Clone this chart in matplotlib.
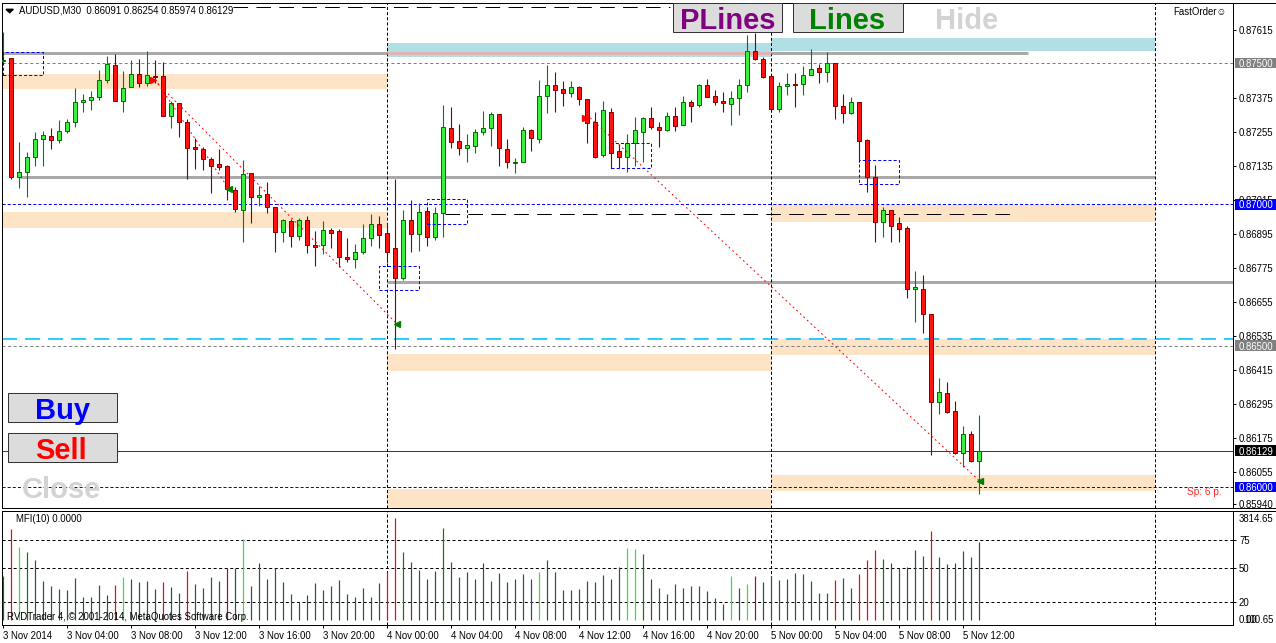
import matplotlib
matplotlib.use("Agg")
import matplotlib.pyplot as plt
from matplotlib.patches import Rectangle, Polygon
from matplotlib.lines import Line2D

plt.rcParams['font.family'] = ['Liberation Sans', 'DejaVu Sans']
plt.rcParams['lines.scale_dashes'] = False
plt.rcParams['lines.solid_capstyle'] = 'butt'

# ---------------- data ----------------
SYMBOL = "AUDUSD,M30"
opens = [0.87507, 0.87518, 0.87097, 0.87114, 0.87168, 0.87231, 0.87242, 0.87228, 0.87260, 0.87291,
         0.87362, 0.87369, 0.87380, 0.87440, 0.87493, 0.87365, 0.87415, 0.87461, 0.87429, 0.87454,
         0.87454, 0.87313, 0.87359, 0.87291, 0.87203, 0.87196, 0.87160, 0.87143, 0.87136, 0.87051,
         0.86980, 0.87111, 0.87026, 0.87037, 0.86991, 0.86902, 0.86941, 0.86888, 0.86945, 0.86856,
         0.86856, 0.86909, 0.86906, 0.86814, 0.86807, 0.86831, 0.86881, 0.86930, 0.86899, 0.86846,
         0.86739, 0.86945, 0.86895, 0.86976, 0.86885, 0.86969, 0.87270, 0.87224, 0.87199, 0.87206,
         0.87256, 0.87270, 0.87320, 0.87196, 0.87146, 0.87150, 0.87263, 0.87231, 0.87383, 0.87422,
         0.87408, 0.87394, 0.87415, 0.87373, 0.87291, 0.87175, 0.87327, 0.87189, 0.87168, 0.87217,
         0.87256, 0.87306, 0.87274, 0.87263, 0.87313, 0.87281, 0.87362, 0.87352, 0.87422, 0.87383,
         0.87365, 0.87355, 0.87376, 0.87422, 0.87543, 0.87514, 0.87454, 0.87337, 0.87419, 0.87426,
         0.87426, 0.87458, 0.87482, 0.87468, 0.87500, 0.87348, 0.87323, 0.87362, 0.87228, 0.87097,
         0.86938, 0.86980, 0.86934, 0.86916, 0.86701, 0.86701, 0.86612, 0.86301, 0.86333, 0.86269,
         0.86120, 0.86188, 0.86091]
highs = [0.87610, 0.87518, 0.87221, 0.87185, 0.87256, 0.87260, 0.87270, 0.87298, 0.87302, 0.87412,
         0.87390, 0.87401, 0.87475, 0.87525, 0.87532, 0.87472, 0.87511, 0.87514, 0.87543, 0.87511,
         0.87504, 0.87365, 0.87359, 0.87302, 0.87235, 0.87203, 0.87168, 0.87196, 0.87139, 0.87062,
         0.87157, 0.87111, 0.87065, 0.87079, 0.86991, 0.86948, 0.86948, 0.86952, 0.86959, 0.86906,
         0.86941, 0.86916, 0.86913, 0.86881, 0.86860, 0.86930, 0.86966, 0.86959, 0.86934, 0.87090,
         0.86980, 0.87015, 0.87005, 0.86991, 0.86991, 0.87352, 0.87344, 0.87284, 0.87249, 0.87267,
         0.87330, 0.87327, 0.87320, 0.87231, 0.87164, 0.87274, 0.87267, 0.87440, 0.87493, 0.87468,
         0.87436, 0.87436, 0.87419, 0.87373, 0.87327, 0.87365, 0.87341, 0.87214, 0.87249, 0.87309,
         0.87309, 0.87344, 0.87291, 0.87327, 0.87344, 0.87383, 0.87369, 0.87426, 0.87444, 0.87405,
         0.87398, 0.87401, 0.87444, 0.87599, 0.87606, 0.87521, 0.87454, 0.87433, 0.87465, 0.87465,
         0.87489, 0.87550, 0.87497, 0.87539, 0.87500, 0.87390, 0.87380, 0.87362, 0.87231, 0.87139,
         0.86991, 0.86980, 0.86955, 0.86923, 0.86764, 0.86750, 0.86612, 0.86386, 0.86371, 0.86304,
         0.86216, 0.86198, 0.86254]
lows = [0.87504, 0.87090, 0.87058, 0.87026, 0.87136, 0.87136, 0.87196, 0.87217, 0.87252, 0.87274,
        0.87327, 0.87334, 0.87369, 0.87429, 0.87365, 0.87327, 0.87415, 0.87415, 0.87419, 0.87429,
        0.87313, 0.87270, 0.87238, 0.87090, 0.87125, 0.87122, 0.87040, 0.87122, 0.87015, 0.86973,
        0.86867, 0.86934, 0.86995, 0.86969, 0.86831, 0.86867, 0.86849, 0.86874, 0.86828, 0.86782,
        0.86824, 0.86846, 0.86778, 0.86796, 0.86775, 0.86824, 0.86853, 0.86846, 0.86792, 0.86488,
        0.86732, 0.86831, 0.86835, 0.86853, 0.86874, 0.86885, 0.87199, 0.87175, 0.87150, 0.87182,
        0.87245, 0.87206, 0.87136, 0.87129, 0.87111, 0.87150, 0.87189, 0.87217, 0.87323, 0.87327,
        0.87348, 0.87380, 0.87352, 0.87217, 0.87164, 0.87168, 0.87129, 0.87129, 0.87114, 0.87136,
        0.87150, 0.87267, 0.87203, 0.87260, 0.87260, 0.87281, 0.87291, 0.87344, 0.87380, 0.87352,
        0.87327, 0.87281, 0.87316, 0.87398, 0.87511, 0.87447, 0.87334, 0.87327, 0.87387, 0.87344,
        0.87387, 0.87458, 0.87429, 0.87433, 0.87302, 0.87288, 0.87320, 0.87150, 0.87044, 0.86867,
        0.86885, 0.86867, 0.86867, 0.86669, 0.86584, 0.86545, 0.86113, 0.86258, 0.86262, 0.86117,
        0.86071, 0.86088, 0.85974]
closes = [0.87511, 0.87097, 0.87114, 0.87168, 0.87231, 0.87245, 0.87228, 0.87260, 0.87291, 0.87362,
          0.87369, 0.87380, 0.87440, 0.87497, 0.87365, 0.87412, 0.87461, 0.87429, 0.87458, 0.87451,
          0.87313, 0.87359, 0.87291, 0.87199, 0.87196, 0.87160, 0.87136, 0.87132, 0.87054, 0.86984,
          0.87107, 0.87026, 0.87033, 0.86991, 0.86902, 0.86945, 0.86888, 0.86945, 0.86856, 0.86849,
          0.86909, 0.86899, 0.86814, 0.86807, 0.86831, 0.86881, 0.86930, 0.86892, 0.86831, 0.86739,
          0.86945, 0.86895, 0.86973, 0.86885, 0.86969, 0.87274, 0.87221, 0.87199, 0.87210, 0.87256,
          0.87270, 0.87320, 0.87199, 0.87150, 0.87150, 0.87263, 0.87235, 0.87383, 0.87422, 0.87405,
          0.87394, 0.87415, 0.87373, 0.87288, 0.87168, 0.87334, 0.87182, 0.87168, 0.87217, 0.87263,
          0.87306, 0.87274, 0.87263, 0.87313, 0.87277, 0.87362, 0.87348, 0.87422, 0.87380, 0.87362,
          0.87359, 0.87376, 0.87422, 0.87543, 0.87514, 0.87451, 0.87337, 0.87419, 0.87426, 0.87422,
          0.87458, 0.87479, 0.87468, 0.87500, 0.87348, 0.87323, 0.87362, 0.87224, 0.87097, 0.86938,
          0.86980, 0.86923, 0.86913, 0.86701, 0.86708, 0.86612, 0.86301, 0.86336, 0.86265, 0.86120,
          0.86188, 0.86091, 0.86129]

mfi = [43.0, 84.7, 68.7, 64.3, 57.2, 38.6, 34.4, 31.5, 30.6, 41.2,
       24.4, 24.4, 35.0, 26.2, 35.0, 42.1, 40.4, 37.7, 38.6, 31.5,
       37.7, 33.3, 27.9, 47.5, 35.9, 32.4, 42.1, 38.6, 50.1, 50.1,
       75.8, 34.4, 54.6, 40.4, 50.1, 37.7, 27.1, 20.0, 26.2, 36.8,
       30.6, 34.4, 39.5, 27.1, 24.4, 32.4, 24.4, 36.8, 46.6, 94.5,
       64.3, 55.4, 48.3, 40.4, 47.5, 85.6, 55.4, 42.1, 46.6, 40.4,
       54.6, 38.6, 45.7, 37.7, 40.4, 44.8, 40.4, 46.6, 57.2, 46.6,
       30.6, 30.6, 31.5, 38.6, 37.7, 43.9, 40.4, 51.0, 67.9, 67.0,
       62.5, 40.4, 32.4, 27.1, 35.9, 32.4, 34.2, 34.2, 29.7, 23.5,
       18.2, 43.0, 32.4, 35.9, 43.0, 37.7, 43.0, 39.5, 40.4, 45.7,
       44.8, 38.6, 27.9, 27.9, 39.5, 41.2, 32.4, 44.8, 57.2, 66.1,
       58.1, 54.6, 50.1, 51.0, 66.1, 60.8, 82.9, 59.9, 53.7, 54.6,
       65.2, 59.9, 73.2]
mfi_kind = ("drldgggggg" "ggggrlgggg" "rggrggggmg" "lggggggggg" "ggggggggrr"
            "dggggdgggg" "ggggggglgg" "ggggggggll" "dggggggggg" "glglmggggg"
            "ggggrggrrr" "dgggggrggg" "ggg")
MFI_LEVELS = [75, 50, 20]

TIME_TICK_BARS = [0, 8, 16, 24, 32, 40, 48, 56, 64, 72, 80, 88, 96, 104, 112, 120]
TIME_LABELS = ["3 Nov 2014", "3 Nov 04:00", "3 Nov 08:00", "3 Nov 12:00", "3 Nov 16:00",
               "3 Nov 20:00", "4 Nov 00:00", "4 Nov 04:00", "4 Nov 08:00", "4 Nov 12:00",
               "4 Nov 16:00", "4 Nov 20:00", "5 Nov 00:00", "5 Nov 04:00", "5 Nov 08:00",
               "5 Nov 12:00"]
DAY_BARS = [48, 96, 144]

PRICE_TICKS = [0.87615, 0.87375, 0.87255, 0.87135, 0.87015, 0.86895, 0.86775, 0.86655,
               0.86535, 0.86415, 0.86295, 0.86175, 0.86055, 0.85940]
GRAY_LEVELS = [0.87500, 0.86500]
BLUE_LEVELS = [0.87000, 0.86000]
CYAN_LEVEL = 0.86525

# (start bar, end bar, top price, bottom price)
PEACH_ZONES = [(0, 48, 0.87461, 0.87408), (0, 48, 0.86973, 0.86916),
               (48, 96, 0.86471, 0.86410), (48, 96, 0.85993, 0.85900),
               (96, 144, 0.86998, 0.86938), (96, 144, 0.86524, 0.86467),
               (96, 144, 0.86042, 0.85986)]
BLUE_ZONES = [(48, 96, 0.87571, 0.87521), (96, 144, 0.87589, 0.87543)]
# (start bar, end bar, price)
GRAY_LINES = [(0, 128.1, 0.87534), (2.1, 144, 0.87097), (48, 154, 0.86725)]
PINK_SEG = (48, 96, 0.87534)
BLACK_DASH = [(55.25, 126, 0.86966), (28.75, 83.4, 0.87698)]
BOX_ZONES = [(0, 5, 0.87539, 0.87458), (53, 58, 0.87019, 0.86930), (47, 52, 0.86782, 0.86697),
             (76, 81, 0.87217, 0.87129), (107, 112, 0.87157, 0.87072)]
TREND_LINES = [((18.9, 0.87440), (49.25, 0.86577)),
               ((19.4, 0.87426), (28.25, 0.87054)),
               ((73.4, 0.87306), (122.1, 0.86021))]
OPEN_ARROWS = [(18.7, 0.87440), (72.8, 0.87306)]
CLOSE_ARROWS = [(28.25, 0.87054), (49.25, 0.86577), (122.1, 0.86021)]

# ---------------- layout ----------------
W, H = 1276, 643
fig = plt.figure(figsize=(W / 100, H / 100), dpi=100)
fig.patch.set_facecolor('white')
PX = 0.72


def fx(x):
    return x / W


def fy(y):
    return 1 - y / H


X0, X1 = 2.5, 1233.0
MAIN_TOP, MAIN_BOT = 3.0, 508.0
IND_TOP, IND_BOT = 511.0, 624.5
XLIM = (-0.0625, 153.75)
YLIM = (0.85926, 0.87712)
WAX = X1 - X0
FS = 6.9

ax = fig.add_axes([fx(X0), fy(MAIN_BOT), WAX / W, (MAIN_BOT - MAIN_TOP) / H])
ax2 = fig.add_axes([fx(X0), fy(IND_BOT), WAX / W, (IND_BOT - IND_TOP) / H])
for a in (ax, ax2):
    a.set_facecolor('white')
    for s in a.spines.values():
        s.set_linewidth(PX)
        s.set_color('black')

# zones
for x0, x1, top, bot in PEACH_ZONES:
    ax.fill_between([x0, x1], bot, top, color='#FDE4C6', lw=0, zorder=1)
for x0, x1, top, bot in BLUE_ZONES:
    ax.fill_between([x0, x1], bot, top, color='#B0DFE6', lw=0, zorder=1)

for x0, x1, y in GRAY_LINES:
    ax.hlines(y, x0, x1, colors='#A9A9A9', lw=3 * PX, zorder=2)
ax.hlines(PINK_SEG[2], PINK_SEG[0], PINK_SEG[1], colors='#E2B3B3', lw=3 * PX, zorder=2.1)

ax.hlines(GRAY_LEVELS, XLIM[0], XLIM[1], colors='#808080', lw=PX,
          linestyles=[(0, (2.2, 1.8))], zorder=2)
ax.hlines(BLUE_LEVELS, XLIM[0], XLIM[1], colors='#0000FF', lw=PX,
          linestyles=[(0, (2.2, 1.5))], zorder=2)
ax.hlines(CYAN_LEVEL, XLIM[0], XLIM[1], colors='#00BFFF', lw=1.6 * PX,
          linestyles=[(0, (10.8, 5.8))], zorder=2)
ax.hlines(closes[-1], XLIM[0], XLIM[1], colors='#006400', lw=PX, zorder=2)
for x0, x1, y in BLACK_DASH:
    ax.hlines(y, x0, x1, colors='black', lw=PX, linestyles=[(0, (10.5, 6))], zorder=2)

for b in DAY_BARS:
    ax.axvline(b, color='black', lw=PX, ls=(0, (2.2, 1.5)), zorder=2)
    ax2.axvline(b, color='black', lw=PX, ls=(0, (2.2, 1.5)), zorder=2)

# candles
n = len(opens)
xs = list(range(n))
wick_c = ['#008000' if closes[i] >= opens[i] else '#800000' for i in xs]
ax.vlines(xs, lows, highs, colors=wick_c, lw=1.1 * PX, zorder=3)
fill_c = ['#3CEF3C' if closes[i] >= opens[i] else '#FF1111' for i in xs]
edge_c = ['#007000' if closes[i] >= opens[i] else '#8B0000' for i in xs]
bott = [min(opens[i], closes[i]) for i in xs]
hts = [abs(closes[i] - opens[i]) for i in xs]
ax.bar(xs, hts, bottom=bott, width=0.5, color=fill_c, edgecolor=edge_c,
       linewidth=PX, zorder=4)

# trade lines / markers / boxes
for (xa, ya), (xb, yb) in TREND_LINES:
    ax.plot([xa, xb], [ya, yb], color='red', lw=PX, ls=(0, (1.3, 2.2)), zorder=5)
ax.plot([p[0] for p in OPEN_ARROWS], [p[1] for p in OPEN_ARROWS], ls='none',
        marker='>', ms=5, color='red', mec='red', zorder=6)
ax.plot([p[0] for p in CLOSE_ARROWS], [p[1] for p in CLOSE_ARROWS], ls='none',
        marker='<', ms=5, color='#008000', mec='#008000', zorder=6)
for x0, x1, top, bot in BOX_ZONES:
    ax.add_patch(Rectangle((x0, bot), x1 - x0, top - bot, fill=False, ec='#0000FF',
                           lw=PX, ls=(0, (2.2, 1.5)), zorder=5))

ax.set_yticks(PRICE_TICKS)
ax.set_yticklabels([f"{p:.5f}" for p in PRICE_TICKS])
ax.yaxis.tick_right()
ax.tick_params(axis='y', length=3 * PX, width=PX, pad=3 * PX, labelsize=FS, direction='out')
ax.tick_params(axis='x', bottom=False, labelbottom=False)
ax.set_xlim(*XLIM)
ax.set_ylim(*YLIM)

# boxed price labels
pp = (YLIM[1] - YLIM[0]) / (MAIN_BOT - MAIN_TOP)


def price_box(y, fc):
    tr = ax.get_yaxis_transform()
    ax.add_patch(Rectangle((1 + 1.5 / WAX, y - 5.2 * pp), 42 / WAX, 10.4 * pp, transform=tr,
                           fc=fc, ec='none', clip_on=False, zorder=20))
    ax.text(1 + 6 / WAX, y, f"{y:.5f}", transform=tr, color='white', fontsize=FS,
            va='center_baseline', ha='left', clip_on=False, zorder=21)


for y in GRAY_LEVELS:
    price_box(y, '#808080')
for y in BLUE_LEVELS:
    price_box(y, '#0000FF')
price_box(closes[-1], 'black')

# ---------------- indicator ----------------
kind_color = {'g': '#2F4F4F', 'r': '#FF0000', 'l': '#22EE22', 'd': '#008000', 'm': '#A0102A'}
ax2.vlines(xs, 4.0, mfi, colors=[kind_color[k] for k in mfi_kind], lw=1.2 * PX, zorder=3)
ax2.hlines(MFI_LEVELS, XLIM[0], XLIM[1], colors='black', lw=PX,
           linestyles=[(0, (2.2, 1.8))], zorder=2)
ax2.set_xticks(TIME_TICK_BARS)
ax2.set_xticklabels(TIME_LABELS)
for t in ax2.get_xticklabels():
    t.set_ha('left')
ax2.tick_params(axis='x', length=3 * PX, width=PX, pad=2.4, labelsize=FS, direction='out')
ax2.set_yticks(MFI_LEVELS)
ax2.set_yticklabels([str(v) for v in MFI_LEVELS])
ax2.yaxis.tick_right()
ax2.tick_params(axis='y', length=3 * PX, width=PX, pad=3 * PX, labelsize=FS, direction='out')
ax2.set_xlim(*XLIM)
ax2.set_ylim(0, 100.7)
tr2 = ax2.get_yaxis_transform()
ax2.text(1 + 6 / WAX, 94.5, "3814.65", transform=tr2, fontsize=FS, va='center_baseline',
         clip_on=False)
ax2.text(1 + 6 / WAX, 4.9, "0.00", transform=tr2, fontsize=FS, va='center_baseline',
         clip_on=False)
ax2.text(1 + 11 / WAX, 4.9, "100.65", transform=tr2, fontsize=FS, va='center_baseline',
         clip_on=False)

# ---------------- frame extras ----------------
for yy in (MAIN_TOP, MAIN_BOT, IND_TOP):
    fig.add_artist(Line2D([fx(X1), 1.0], [fy(yy), fy(yy)], color='black', lw=PX))

# header
fig.add_artist(Polygon([(fx(6), fy(9.3)), (fx(13.3), fy(9.3)), (fx(9.7), fy(12.7))],
                       closed=True, color='black', transform=fig.transFigure))
fig.text(fx(19), fy(10.8), f"{SYMBOL}  {opens[-1]:.5f} {highs[-1]:.5f} {lows[-1]:.5f} {closes[-1]:.5f}",
         fontsize=FS, va='center')
fig.text(fx(1173), fy(12), "FastOrder\u263A", fontsize=FS, va='center')
fig.text(fx(1222), fy(492), "Sp: 6 p.", fontsize=7.3, color='#FF2A2A', ha='right', va='center')
fig.text(fx(16), fy(519.5), "MFI(10) 0.0000", fontsize=FS, va='center')
fig.text(fx(7), fy(617.5), "RVDTrader 4, \u00a9 2001-2014, MetaQuotes Software Corp.",
         fontsize=FS, va='center', zorder=10)


def button(x0, y0, x1, y1):
    fig.add_artist(Rectangle((fx(x0), fy(y1)), (x1 - x0) / W, (y1 - y0) / H,
                             transform=fig.transFigure, fc='#DCDCDC', ec='#333333', lw=PX,
                             zorder=30))


def btext(cx, base, label, color):
    fig.text(fx(cx), fy(base), label, ha='center', va='baseline', fontsize=21,
             fontweight='bold', color=color, family=['Liberation Sans', 'DejaVu Sans'],
             zorder=31)


button(673, 3, 782, 32)
btext(727.5, 29.3, "PLines", '#800080')
button(793, 3, 903, 32)
btext(847, 29.3, "Lines", '#008000')
btext(966.5, 29.3, "Hide", '#D3D3D3')
button(8, 393, 117, 422)
btext(62.5, 419.3, "Buy", '#0000FF')
button(8, 433, 117, 462)
btext(61.5, 459.3, "Sell", '#FF0000')
btext(61.5, 498.5, "Close", '#D3D3D3')

fig.savefig("out.png", dpi=100)
